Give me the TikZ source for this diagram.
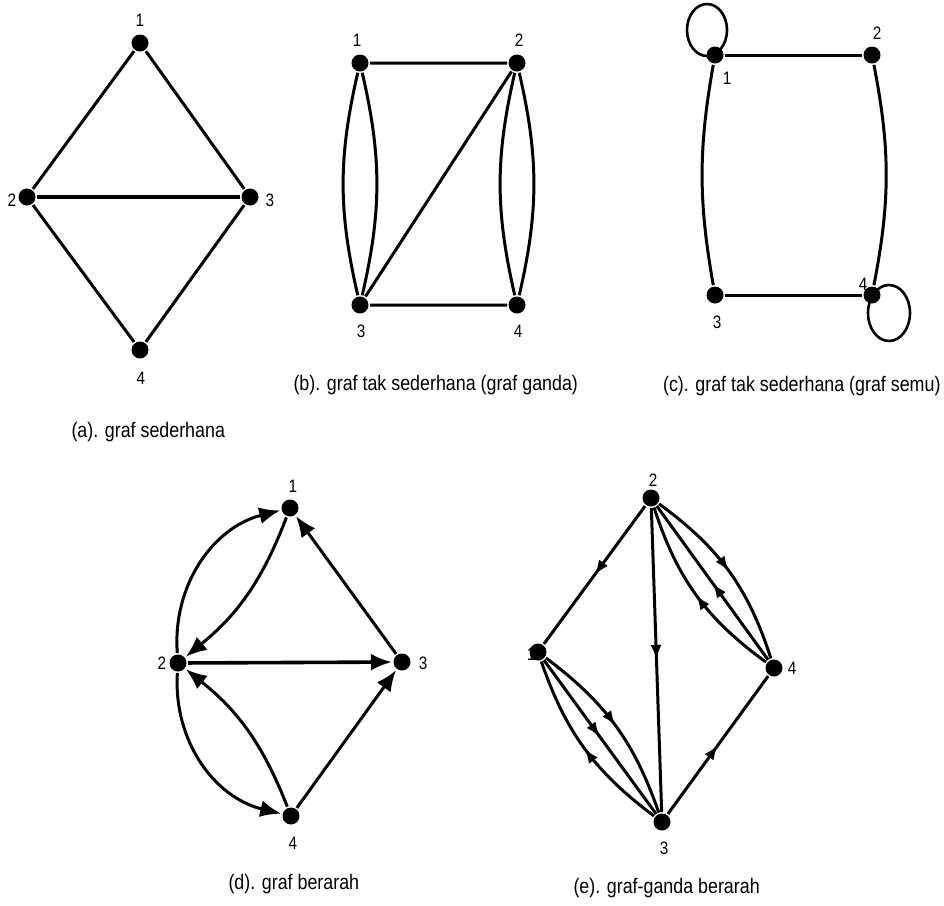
\documentclass[tikz,border=0pt]{standalone}
\usepackage{fontspec}
\setmainfont{Liberation Sans}[FakeStretch=0.85]
\usetikzlibrary{arrows.meta,decorations.markings}
\begin{document}
\begin{tikzpicture}[x=1pt,y=-1pt,line width=3pt,font=\fontsize{21}{24}\selectfont]
  \tikzset{dot/.style={circle, fill, inner sep=0pt, minimum size=17pt},
    num/.style={inner sep=0pt, font=\fontsize{18}{20}\selectfont},
    capt/.style={inner sep=0pt, anchor=west},
    endarr/.style={-{Latex[length=21pt,width=17pt]}},
    midarr/.style={postaction={decorate}, decoration={markings,
      mark=at position 0.5 with {\arrow{Latex[length=15pt,width=11pt]}}}}}
  \useasboundingbox (0,0) rectangle (944,905);
  % (a) graf sederhana
  \node[dot] (a1) at (140,43) {};
  \node[dot] (a2) at (27,197) {};
  \node[dot] (a3) at (250,197) {};
  \node[dot] (a4) at (140,350) {};
  \node[num] (a1l) at (140,20) {1};
  \node[num] (a2l) at (12,200) {2};
  \node[num] (a3l) at (270,200) {3};
  \node[num] (a4l) at (141,378) {4};
  \draw (a1) -- (a2) -- (a4) -- (a3) -- (a1);
  \draw[line width=4pt] (a2) -- (a3);
  \node[capt] (acap) at (70,432) {(a). graf sederhana};
  % (b) graf ganda
  \node[dot] (b1) at (360,63) {};
  \node[dot] (b2) at (517,63) {};
  \node[dot] (b3) at (360,305) {};
  \node[dot] (b4) at (517,305) {};
  \node[num] (b1l) at (357,40) {1};
  \node[num] (b2l) at (519,40) {2};
  \node[num] (b3l) at (361,331) {3};
  \node[num] (b4l) at (518,331) {4};
  \draw (b1) -- (b2) -- (b3) -- (b4);
  \draw (b1) to[bend left=13] (b3);
  \draw (b1) to[bend right=13] (b3);
  \draw (b2) to[bend left=13] (b4);
  \draw (b2) to[bend right=13] (b4);
  \node[capt] (bcap) at (292,385) {(b). graf tak sederhana (graf ganda)};
  % (c) graf semu
  \node[dot] (c1) at (715,55) {};
  \node[dot] (c2) at (872,55) {};
  \node[dot] (c3) at (715,295) {};
  \node[dot] (c4) at (872,295) {};
  \node[num] (c1l) at (727,78) {1};
  \node[num] (c2l) at (877,33) {2};
  \node[num] (c3l) at (717,322) {3};
  \node[num] (c4l) at (863,284) {4};
  \draw (c1) -- (c2);
  \draw (c3) -- (c4);
  \draw (c1) to[bend right=10] (c3);
  \draw (c2) to[bend left=11] (c4);
  \draw[line width=2.6pt] ([shift={(-8,-25)}]c1.center) ellipse[x radius=20pt, y radius=26pt];
  \draw[line width=2.6pt] ([shift={(17,18)}]c4.center) ellipse[x radius=21pt, y radius=28pt];
  \node[capt, anchor=east] (ccap) at (942,386) {(c). graf tak sederhana (graf semu)};
  % (d) graf berarah
  \node[dot] (d1) at (290,508) {};
  \node[dot] (d2) at (178,663) {};
  \node[dot] (d3) at (402,662) {};
  \node[dot] (d4) at (291,816) {};
  \node[num] (d1l) at (293,486) {1};
  \node[num] (d2l) at (162,663) {2};
  \node[num] (d3l) at (423,663) {3};
  \node[num] (d4l) at (293,843) {4};
  \draw[endarr] (d2) to[bend left=40] (d1);
  \draw[endarr] (d1) to[bend left=15] (d2);
  \draw[endarr] (d3) -- (d1);
  \draw[endarr, line width=3.6pt] (d2) -- (d3);
  \draw[endarr] (d4) -- (d3);
  \draw[endarr] (d2) to[bend right=40] (d4);
  \draw[endarr] (d4) to[bend right=15] (d2);
  \node[capt] (dcap) at (227,884) {(d). graf berarah};
  % (e) graf-ganda berarah
  \node[dot] (e2) at (651,498) {};
  \node[dot] (e1) at (538,652) {};
  \node[dot] (e4) at (774,668) {};
  \node[dot] (e3) at (662,822) {};
  \node[num] (e2l) at (653,480) {2};
  \node[num] (e1l) at (531,654) {1};
  \node[num] (e4l) at (792,668) {4};
  \node[num] (e3l) at (664,848) {3};
  \draw[midarr] (e2) -- (e1);
  \draw[midarr] (e2) -- (e3);
  \draw[midarr] (e3) -- (e4);
  \draw[midarr] (e2) to[bend left=18] (e4);
  \draw[midarr] (e4) -- (e2);
  \draw[midarr] (e4) to[bend left=18] (e2);
  \draw[midarr] (e1) to[bend left=17] (e3);
  \draw[midarr] (e1) -- (e3);
  \draw[midarr] (e3) to[bend left=17] (e1);
  \node[capt] (ecap) at (572,888) {(e). graf-ganda berarah};
\end{tikzpicture}
\end{document}
